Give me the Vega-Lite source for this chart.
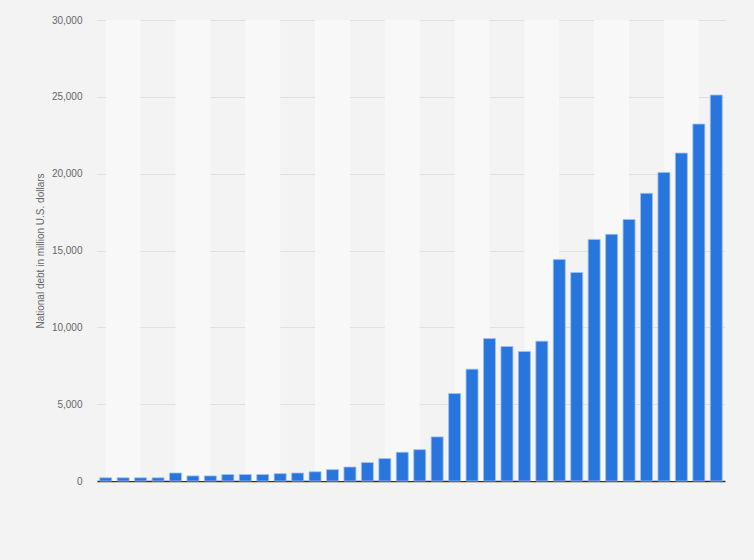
{
  "$schema": "https://vega.github.io/schema/vega-lite/v6.json",
  "autosize": {"type": "none"},
  "padding": {"left": 97, "top": 20, "right": 29, "bottom": 79},
  "width": 628,
  "height": 461,
  "background": "#f3f3f3",
  "config": {
    "view": {"stroke": null},
    "font": "Liberation Sans"
  },
  "datasets": {
    "debt": [
      {"year": 1985, "debt": 210},
      {"year": 1986, "debt": 210},
      {"year": 1987, "debt": 210},
      {"year": 1988, "debt": 210},
      {"year": 1989, "debt": 520},
      {"year": 1990, "debt": 330},
      {"year": 1991, "debt": 330},
      {"year": 1992, "debt": 420},
      {"year": 1993, "debt": 420},
      {"year": 1994, "debt": 420},
      {"year": 1995, "debt": 480},
      {"year": 1996, "debt": 520},
      {"year": 1997, "debt": 600},
      {"year": 1998, "debt": 740},
      {"year": 1999, "debt": 910},
      {"year": 2000, "debt": 1200},
      {"year": 2001, "debt": 1460},
      {"year": 2002, "debt": 1870},
      {"year": 2003, "debt": 2040},
      {"year": 2004, "debt": 2870},
      {"year": 2005, "debt": 5690},
      {"year": 2006, "debt": 7280},
      {"year": 2007, "debt": 9270},
      {"year": 2008, "debt": 8750},
      {"year": 2009, "debt": 8430},
      {"year": 2010, "debt": 9100},
      {"year": 2011, "debt": 14420},
      {"year": 2012, "debt": 13570},
      {"year": 2013, "debt": 15720},
      {"year": 2014, "debt": 16050},
      {"year": 2015, "debt": 17020},
      {"year": 2016, "debt": 18720},
      {"year": 2017, "debt": 20080},
      {"year": 2018, "debt": 21340},
      {"year": 2019, "debt": 23230},
      {"year": 2020, "debt": 25120}
    ],
    "bands": [
      {"start": 1985, "end": 1987},
      {"start": 1989, "end": 1991},
      {"start": 1993, "end": 1995},
      {"start": 1997, "end": 1999},
      {"start": 2001, "end": 2003},
      {"start": 2005, "end": 2007},
      {"start": 2009, "end": 2011},
      {"start": 2013, "end": 2015},
      {"start": 2017, "end": 2019}
    ]
  },
  "layer": [
    {
      "data": {"name": "bands"},
      "mark": {"type": "rect", "color": "#f8f8f8"},
      "encoding": {
        "x": {
          "field": "start",
          "type": "quantitative",
          "scale": {"domain": [1984.5, 2020.5], "nice": false, "zero": false, "padding": 0},
          "axis": {"labels": false, "ticks": false, "grid": false, "title": null, "domainColor": "#333333", "domainWidth": 1.5}
        },
        "x2": {"field": "end"}
      }
    },
    {
      "data": {"name": "debt"},
      "mark": {"type": "bar", "size": 12, "color": "#2876dd", "stroke": "#9ec2f0", "strokeWidth": 0.8},
      "encoding": {
        "x": {
          "field": "year",
          "type": "quantitative",
          "axis": {"labels": false, "ticks": false, "grid": false, "title": null, "domainColor": "#333333", "domainWidth": 1.5}
        },
        "y": {
          "field": "debt",
          "type": "quantitative",
          "scale": {"domain": [0, 30000], "nice": false},
          "axis": {
            "values": [0, 5000, 10000, 15000, 20000, 25000, 30000],
            "format": ",.0f",
            "title": "National debt in million U.S. dollars",
            "titleFontWeight": "normal",
            "titleFontSize": 10,
            "titleColor": "#666666",
            "titlePadding": 6,
            "labelFontSize": 10,
            "labelColor": "#666666",
            "labelPadding": 15,
            "ticks": false,
            "domain": false,
            "gridColor": "#cccccc",
            "gridDash": [1, 1],
            "gridWidth": 1
          }
        }
      }
    }
  ]
}
